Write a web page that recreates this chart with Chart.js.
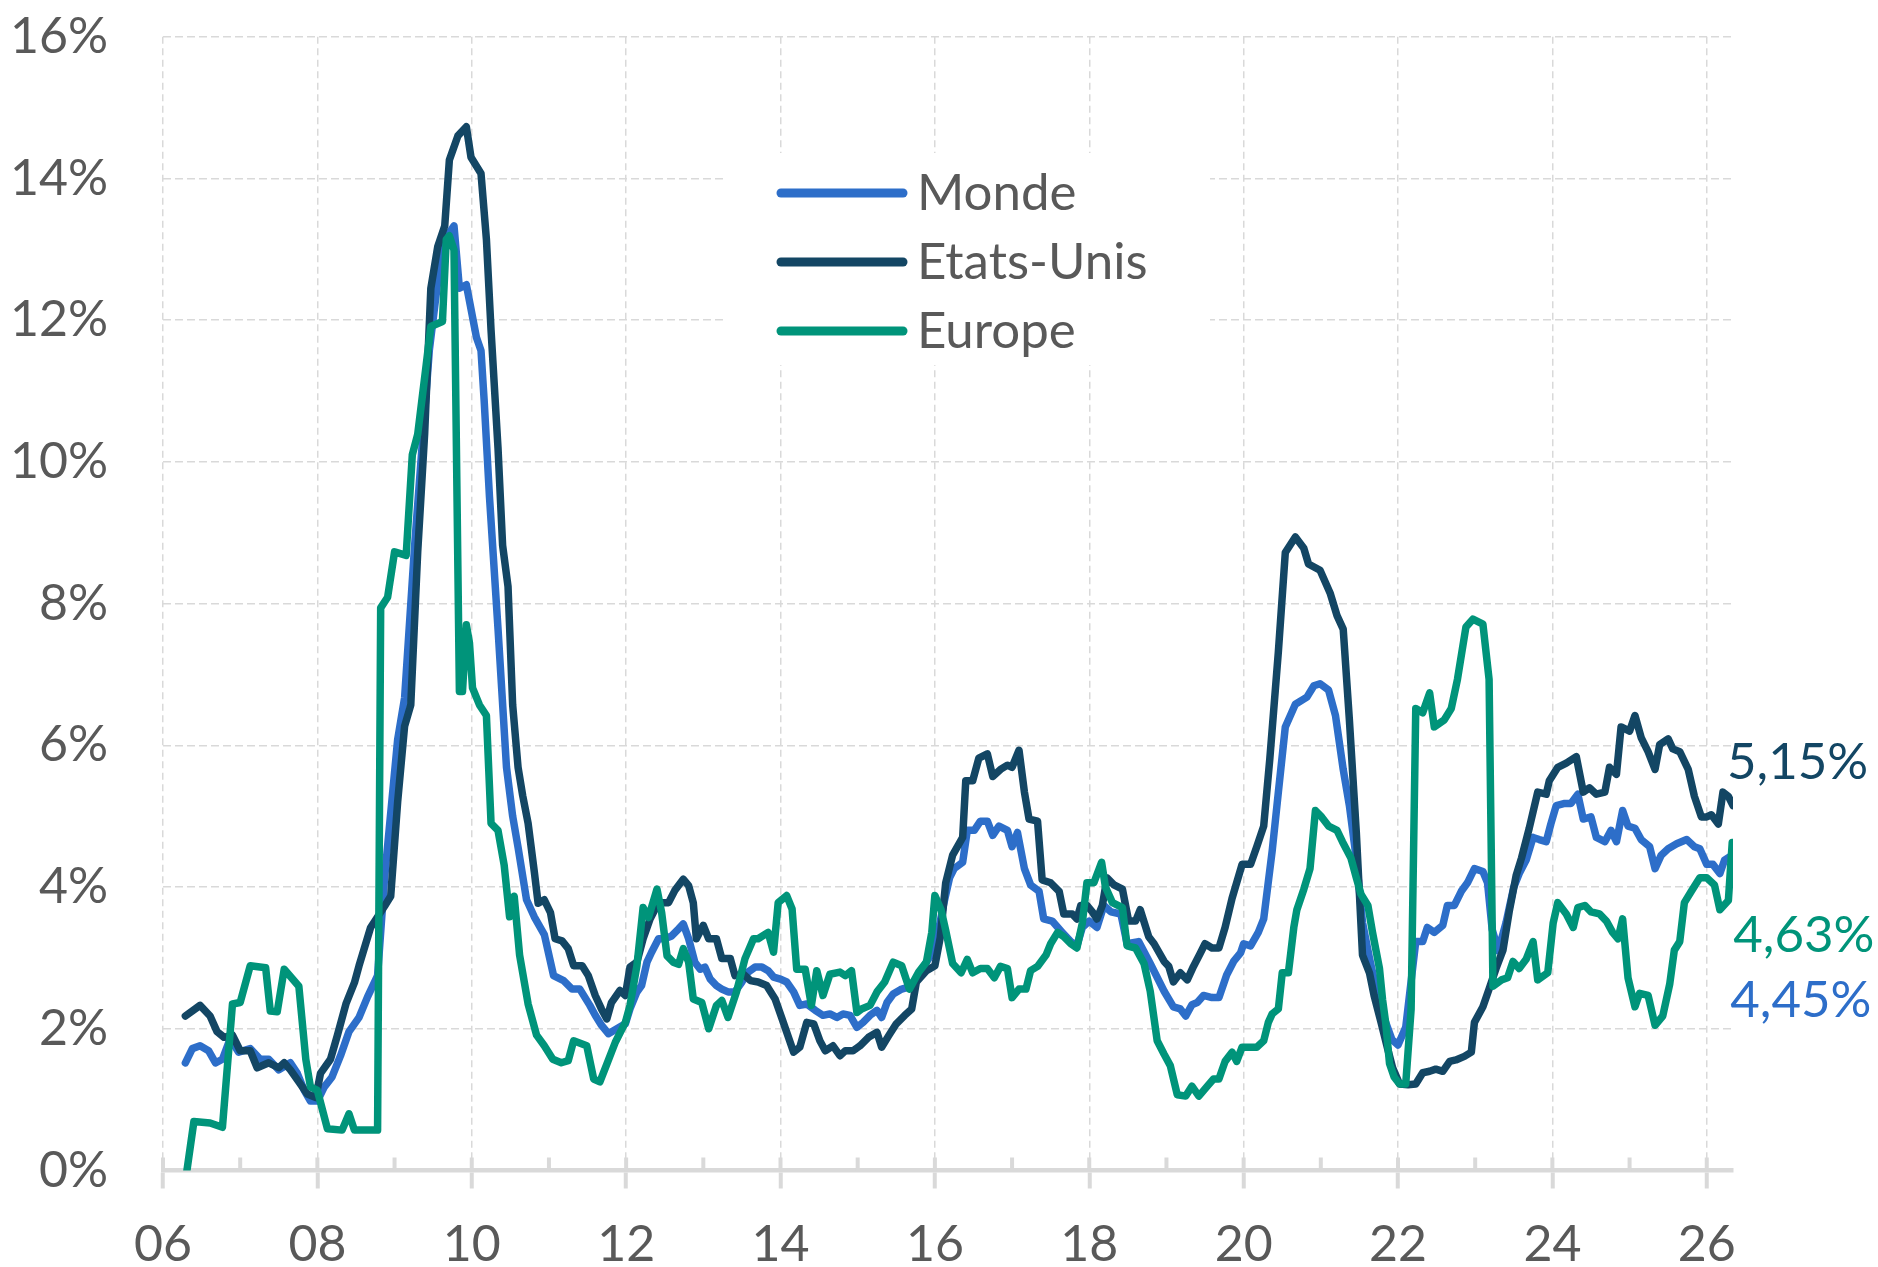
<!DOCTYPE html>
<html lang="fr">
<head>
    <meta charset="utf-8" />
    <title>Monde - Etats-Unis - Europe</title>
    <script src="https://cdn.jsdelivr.net/npm/chart.js"></script>
    <style>
      html, body { margin: 0; padding: 0; background: #ffffff; }
      #wrap { width: 1878px; height: 1267px; }
    </style>
</head>
<body>
<div id="wrap"><canvas id="chart" width="1878" height="1267"></canvas></div>

<script>
    // --- Données (année décimale, valeur en %) ---
    const seriesNames = ["Monde", "Etats-Unis", "Europe"];

    const mondeData = [
        [2006.29,1.52],[2006.38,1.72],[2006.48,1.76],[2006.59,1.69],[2006.68,1.52],[2006.77,1.57],[2006.87,1.86],[2006.98,1.67],
        [2007.13,1.72],[2007.26,1.57],[2007.37,1.57],[2007.50,1.42],[2007.65,1.52],[2007.74,1.37],[2007.83,1.13],[2007.91,0.98],
        [2008.00,0.98],[2008.09,1.18],[2008.19,1.32],[2008.30,1.62],[2008.41,1.96],[2008.54,2.16],[2008.65,2.45],[2008.78,2.75],
        [2008.87,4.12],[2009.04,6.08],[2009.13,6.67],[2009.26,8.82],[2009.45,11.57],[2009.56,12.55],[2009.65,13.14],[2009.77,13.33],
        [2009.84,12.45],[2009.93,12.50],[2010.06,11.76],[2010.12,11.57],[2010.16,10.88],[2010.23,9.50],[2010.34,7.65],[2010.45,5.69],
        [2010.53,5.00],[2010.60,4.56],[2010.71,3.82],[2010.81,3.58],[2010.94,3.33],[2011.06,2.75],[2011.19,2.68],[2011.30,2.56],
        [2011.40,2.56],[2011.53,2.33],[2011.60,2.19],[2011.68,2.05],[2011.77,1.93],[2011.88,2.00],[2011.99,2.07],[2012.05,2.28],
        [2012.14,2.52],[2012.20,2.61],[2012.27,2.94],[2012.33,3.08],[2012.42,3.27],[2012.50,3.27],[2012.59,3.31],[2012.68,3.41],
        [2012.74,3.48],[2012.81,3.27],[2012.89,2.94],[2012.96,2.84],[2013.02,2.87],[2013.09,2.70],[2013.17,2.61],[2013.24,2.56],
        [2013.32,2.52],[2013.41,2.52],[2013.50,2.66],[2013.58,2.80],[2013.67,2.87],[2013.76,2.87],[2013.84,2.82],[2013.91,2.73],
        [2014.00,2.70],[2014.08,2.66],[2014.17,2.52],[2014.25,2.33],[2014.34,2.35],[2014.45,2.26],[2014.55,2.19],[2014.64,2.21],
        [2014.73,2.16],[2014.81,2.21],[2014.90,2.19],[2014.99,2.02],[2015.07,2.09],[2015.16,2.19],[2015.25,2.26],[2015.31,2.16],
        [2015.38,2.37],[2015.46,2.49],[2015.57,2.56],[2015.67,2.59],[2015.79,2.75],[2015.89,2.94],[2016.00,3.13],[2016.11,3.74],
        [2016.19,4.13],[2016.25,4.26],[2016.36,4.35],[2016.42,4.80],[2016.51,4.80],[2016.59,4.93],[2016.68,4.93],[2016.75,4.73],
        [2016.83,4.86],[2016.94,4.80],[2017.00,4.57],[2017.07,4.77],[2017.16,4.26],[2017.24,4.03],[2017.35,3.94],[2017.41,3.55],
        [2017.52,3.52],[2017.65,3.36],[2017.76,3.23],[2017.84,3.17],[2017.91,3.43],[2018.00,3.52],[2018.10,3.43],[2018.19,3.74],
        [2018.28,3.65],[2018.41,3.62],[2018.49,3.20],[2018.64,3.23],[2018.79,2.92],[2018.97,2.53],[2019.09,2.31],[2019.18,2.28],
        [2019.25,2.18],[2019.33,2.34],[2019.40,2.37],[2019.48,2.47],[2019.59,2.44],[2019.68,2.44],[2019.78,2.76],[2019.87,2.95],
        [2019.96,3.07],[2020.00,3.20],[2020.09,3.17],[2020.19,3.36],[2020.26,3.55],[2020.37,4.51],[2020.45,5.34],[2020.54,6.26],
        [2020.67,6.58],[2020.82,6.68],[2020.91,6.84],[2020.99,6.87],[2021.10,6.78],[2021.19,6.42],[2021.29,5.66],[2021.37,5.15],
        [2021.46,4.40],[2021.54,3.50],[2021.63,3.00],[2021.72,2.55],[2021.82,2.15],[2021.92,1.85],[2022.00,1.77],[2022.10,2.02],
        [2022.23,3.23],[2022.32,3.23],[2022.38,3.43],[2022.47,3.36],[2022.58,3.46],[2022.64,3.74],[2022.73,3.74],[2022.82,3.94],
        [2022.90,4.06],[2022.99,4.26],[2023.10,4.22],[2023.16,4.06],[2023.22,3.40],[2023.30,3.10],[2023.40,3.50],[2023.50,4.00],
        [2023.57,4.19],[2023.66,4.38],[2023.75,4.70],[2023.83,4.67],[2023.92,4.64],[2023.98,4.89],[2024.05,5.15],[2024.16,5.18],
        [2024.24,5.18],[2024.33,5.31],[2024.40,4.96],[2024.50,4.99],[2024.57,4.70],[2024.68,4.64],[2024.76,4.80],[2024.83,4.64],
        [2024.91,5.08],[2024.98,4.86],[2025.07,4.83],[2025.15,4.67],[2025.26,4.57],[2025.33,4.26],[2025.41,4.45],[2025.50,4.54],
        [2025.61,4.61],[2025.74,4.67],[2025.84,4.57],[2025.91,4.54],[2026.00,4.32],[2026.08,4.32],[2026.17,4.19],[2026.23,4.38],
        [2026.33,4.45]
    ];

    const usData = [
        [2006.29,2.18],[2006.48,2.33],[2006.61,2.18],[2006.70,1.96],[2006.79,1.88],[2006.90,1.91],[2007.00,1.69],[2007.13,1.69],
        [2007.22,1.45],[2007.37,1.52],[2007.50,1.45],[2007.57,1.52],[2007.65,1.42],[2007.76,1.25],[2007.87,1.08],[2007.98,1.03],
        [2008.04,1.37],[2008.17,1.57],[2008.26,1.91],[2008.37,2.35],[2008.48,2.65],[2008.54,2.89],[2008.69,3.43],[2008.87,3.73],
        [2008.95,3.87],[2009.04,5.20],[2009.13,6.27],[2009.21,6.57],[2009.30,8.73],[2009.39,10.40],[2009.47,12.45],[2009.56,13.04],
        [2009.65,13.33],[2009.71,14.26],[2009.82,14.60],[2009.93,14.73],[2009.99,14.30],[2010.12,14.07],[2010.19,13.14],[2010.25,11.86],
        [2010.34,10.20],[2010.40,8.82],[2010.47,8.24],[2010.53,6.57],[2010.60,5.69],[2010.66,5.29],[2010.73,4.90],[2010.81,4.22],
        [2010.86,3.77],[2010.94,3.82],[2011.02,3.64],[2011.08,3.27],[2011.17,3.24],[2011.25,3.13],[2011.32,2.89],[2011.43,2.89],
        [2011.51,2.75],[2011.60,2.47],[2011.68,2.28],[2011.75,2.14],[2011.81,2.37],[2011.92,2.54],[2011.99,2.47],[2012.05,2.87],
        [2012.14,2.94],[2012.22,3.27],[2012.31,3.55],[2012.42,3.78],[2012.55,3.78],[2012.63,3.95],[2012.74,4.11],[2012.81,4.02],
        [2012.87,3.78],[2012.91,3.27],[2013.00,3.46],[2013.07,3.27],[2013.17,3.27],[2013.24,2.99],[2013.35,2.99],[2013.41,2.75],
        [2013.52,2.77],[2013.61,2.68],[2013.71,2.66],[2013.82,2.61],[2013.93,2.42],[2014.02,2.14],[2014.17,1.67],[2014.25,1.74],
        [2014.34,2.09],[2014.43,2.07],[2014.51,1.83],[2014.58,1.69],[2014.68,1.76],[2014.77,1.62],[2014.84,1.69],[2014.94,1.69],
        [2015.03,1.76],[2015.14,1.88],[2015.25,1.95],[2015.31,1.74],[2015.40,1.90],[2015.50,2.07],[2015.61,2.19],[2015.70,2.28],
        [2015.76,2.66],[2015.89,2.82],[2016.00,2.89],[2016.07,3.29],[2016.14,4.06],[2016.23,4.45],[2016.36,4.70],[2016.40,5.50],
        [2016.49,5.50],[2016.57,5.82],[2016.68,5.88],[2016.75,5.56],[2016.85,5.66],[2016.94,5.72],[2017.00,5.69],[2017.09,5.93],
        [2017.16,5.34],[2017.22,4.96],[2017.33,4.93],[2017.39,4.10],[2017.50,4.06],[2017.61,3.94],[2017.67,3.62],[2017.78,3.62],
        [2017.84,3.55],[2017.89,3.74],[2017.97,3.74],[2018.04,3.65],[2018.10,3.55],[2018.17,3.74],[2018.23,4.13],[2018.32,4.03],
        [2018.43,3.97],[2018.51,3.52],[2018.60,3.52],[2018.66,3.68],[2018.77,3.30],[2018.84,3.20],[2018.97,2.95],[2019.03,2.88],
        [2019.09,2.66],[2019.18,2.79],[2019.27,2.69],[2019.35,2.88],[2019.44,3.07],[2019.50,3.20],[2019.59,3.14],[2019.68,3.14],
        [2019.76,3.43],[2019.85,3.84],[2019.98,4.32],[2020.09,4.32],[2020.17,4.57],[2020.26,4.86],[2020.34,5.82],[2020.45,7.32],
        [2020.54,8.72],[2020.67,8.94],[2020.78,8.78],[2020.84,8.56],[2020.99,8.47],[2021.12,8.15],[2021.21,7.83],[2021.29,7.64],
        [2021.37,6.36],[2021.46,4.77],[2021.54,3.04],[2021.63,2.79],[2021.69,2.47],[2021.78,2.09],[2021.87,1.70],[2021.93,1.45],
        [2022.02,1.22],[2022.13,1.21],[2022.23,1.22],[2022.32,1.38],[2022.41,1.40],[2022.49,1.43],[2022.58,1.40],[2022.67,1.54],
        [2022.75,1.56],[2022.86,1.61],[2022.95,1.67],[2022.99,2.09],[2023.10,2.31],[2023.18,2.56],[2023.27,2.85],[2023.36,3.11],
        [2023.44,3.65],[2023.53,4.16],[2023.60,4.41],[2023.70,4.83],[2023.81,5.34],[2023.92,5.31],[2023.96,5.50],[2024.07,5.69],
        [2024.18,5.75],[2024.31,5.84],[2024.40,5.34],[2024.48,5.40],[2024.57,5.31],[2024.68,5.34],[2024.74,5.69],[2024.83,5.59],
        [2024.89,6.26],[2025.00,6.20],[2025.07,6.42],[2025.15,6.11],[2025.24,5.91],[2025.33,5.66],[2025.39,6.01],[2025.50,6.09],
        [2025.56,5.95],[2025.65,5.91],[2025.76,5.66],[2025.84,5.28],[2025.93,4.99],[2026.00,4.99],[2026.06,5.02],[2026.15,4.89],
        [2026.21,5.34],[2026.28,5.28],[2026.34,5.15]
    ];

    const europeData = [
        [2006.31,0.00],[2006.40,0.69],[2006.61,0.67],[2006.77,0.61],[2006.90,2.35],[2007.00,2.37],[2007.13,2.89],[2007.33,2.86],
        [2007.39,2.25],[2007.48,2.24],[2007.57,2.84],[2007.76,2.60],[2007.85,1.57],[2007.91,1.18],[2008.00,1.13],[2008.13,0.59],
        [2008.32,0.57],[2008.41,0.80],[2008.48,0.57],[2008.78,0.57],[2008.82,7.94],[2008.91,8.09],[2009.00,8.73],[2009.15,8.68],
        [2009.23,10.10],[2009.30,10.39],[2009.41,11.37],[2009.47,11.91],[2009.62,11.98],[2009.67,13.14],[2009.71,13.19],[2009.77,12.99],
        [2009.84,6.76],[2009.88,6.76],[2009.93,7.70],[2009.97,7.45],[2010.01,6.81],[2010.10,6.57],[2010.19,6.42],[2010.25,4.90],
        [2010.34,4.80],[2010.42,4.31],[2010.49,3.58],[2010.55,3.87],[2010.62,3.04],[2010.73,2.35],[2010.84,1.91],[2010.94,1.76],
        [2011.05,1.57],[2011.16,1.52],[2011.25,1.55],[2011.32,1.83],[2011.49,1.76],[2011.58,1.29],[2011.66,1.25],[2011.75,1.50],
        [2011.86,1.81],[2011.99,2.09],[2012.05,2.33],[2012.14,2.89],[2012.22,3.71],[2012.29,3.57],[2012.40,3.97],[2012.46,3.64],
        [2012.53,3.03],[2012.61,2.94],[2012.68,2.91],[2012.74,3.13],[2012.81,2.94],[2012.87,2.42],[2012.98,2.37],[2013.07,2.00],
        [2013.17,2.33],[2013.24,2.40],[2013.32,2.16],[2013.43,2.52],[2013.54,2.99],[2013.65,3.27],[2013.71,3.27],[2013.84,3.36],
        [2013.91,3.08],[2013.97,3.78],[2014.08,3.88],[2014.15,3.69],[2014.21,2.84],[2014.32,2.84],[2014.40,2.33],[2014.47,2.82],
        [2014.55,2.47],[2014.64,2.77],[2014.77,2.80],[2014.84,2.75],[2014.92,2.82],[2014.99,2.23],[2015.05,2.28],[2015.16,2.33],
        [2015.25,2.52],[2015.35,2.66],[2015.46,2.94],[2015.57,2.89],[2015.67,2.56],[2015.79,2.80],[2015.89,2.94],[2015.96,3.36],
        [2016.00,3.88],[2016.08,3.68],[2016.14,3.39],[2016.23,2.92],[2016.34,2.79],[2016.42,2.98],[2016.49,2.79],[2016.59,2.85],
        [2016.68,2.85],[2016.77,2.72],[2016.85,2.88],[2016.94,2.85],[2017.00,2.44],[2017.09,2.56],[2017.18,2.56],[2017.24,2.82],
        [2017.33,2.88],[2017.44,3.04],[2017.50,3.20],[2017.59,3.36],[2017.67,3.30],[2017.76,3.20],[2017.84,3.14],[2017.91,3.49],
        [2017.97,4.06],[2018.06,4.06],[2018.16,4.35],[2018.21,4.00],[2018.30,3.78],[2018.43,3.71],[2018.49,3.17],[2018.60,3.14],
        [2018.71,2.92],[2018.79,2.53],[2018.88,1.83],[2018.97,1.64],[2019.05,1.48],[2019.14,1.07],[2019.25,1.05],[2019.33,1.19],
        [2019.42,1.05],[2019.53,1.19],[2019.61,1.29],[2019.68,1.29],[2019.76,1.54],[2019.85,1.67],[2019.91,1.54],[2019.98,1.74],
        [2020.09,1.74],[2020.17,1.74],[2020.26,1.83],[2020.32,2.09],[2020.37,2.21],[2020.45,2.28],[2020.50,2.79],[2020.58,2.79],
        [2020.65,3.43],[2020.69,3.68],[2020.78,3.97],[2020.86,4.26],[2020.93,5.08],[2021.01,4.99],[2021.10,4.86],[2021.21,4.80],
        [2021.28,4.64],[2021.39,4.41],[2021.46,4.13],[2021.52,3.90],[2021.61,3.74],[2021.67,3.36],[2021.76,2.85],[2021.80,2.41],
        [2021.84,2.09],[2021.89,1.51],[2021.95,1.32],[2022.02,1.22],[2022.10,1.22],[2022.17,2.28],[2022.23,6.52],[2022.32,6.46],
        [2022.41,6.74],[2022.47,6.26],[2022.60,6.36],[2022.69,6.52],[2022.77,6.93],[2022.88,7.67],[2022.97,7.78],[2023.10,7.71],
        [2023.18,6.93],[2023.23,2.60],[2023.34,2.69],[2023.42,2.72],[2023.49,2.95],[2023.57,2.85],[2023.66,2.98],[2023.75,3.23],
        [2023.81,2.69],[2023.94,2.79],[2024.01,3.49],[2024.07,3.78],[2024.18,3.62],[2024.27,3.43],[2024.33,3.71],[2024.42,3.74],
        [2024.50,3.65],[2024.61,3.62],[2024.70,3.52],[2024.78,3.36],[2024.85,3.27],[2024.91,3.55],[2024.98,2.72],[2025.07,2.31],
        [2025.13,2.50],[2025.24,2.47],[2025.33,2.05],[2025.43,2.18],[2025.52,2.63],[2025.58,3.11],[2025.65,3.23],[2025.71,3.78],
        [2025.80,3.94],[2025.91,4.13],[2026.00,4.13],[2026.10,4.03],[2026.17,3.68],[2026.28,3.81],[2026.33,4.63]
    ];

    // axes
    const xMin = 2006, xMax = 2026.34;
    const yMin = 0, yMax = 16, yStep = 2;

    const colors = ["#2D6EC9", "#134664", "#00947A"];
    const FONT = "Lato, 'Open Sans', sans-serif";
    const GRID = "#D9D9D9";
    const TEXT = "#595959";

    const isMajor = v => Number.isInteger(v) && v % 2 === 0;

    // --- petits traits de graduation au-dessus de l'axe X ---
    const upTicks = {
        id: "upTicks",
        beforeDatasetsDraw(chart) {
            const { ctx, scales: { x }, chartArea } = chart;
            ctx.save();
            ctx.strokeStyle = GRID;
            ctx.lineWidth = 4;
            for (let yr = xMin; yr <= Math.floor(xMax); yr++) {
                const px = x.getPixelForValue(yr);
                ctx.beginPath();
                ctx.moveTo(px, chartArea.bottom);
                ctx.lineTo(px, chartArea.bottom - 13);
                ctx.stroke();
            }
            ctx.restore();
        }
    };

    // --- légende dans la zone du graphique ---
    const innerLegend = {
        id: "innerLegend",
        beforeDatasetsDraw(chart) {
            const { ctx } = chart;
            ctx.save();
            ctx.fillStyle = "#ffffff";
            ctx.fillRect(723, 153, 487, 212);
            ctx.lineCap = "round";
            ctx.font = "51px " + FONT;
            ctx.textBaseline = "middle";
            chart.data.datasets.forEach((ds, i) => {
                const y = 193 + i * 69;
                ctx.strokeStyle = ds.borderColor;
                ctx.lineWidth = 9;
                ctx.beginPath();
                ctx.moveTo(781, y);
                ctx.lineTo(903, y);
                ctx.stroke();
                ctx.fillStyle = TEXT;
                ctx.fillText(ds.label, 917, y + 1);
            });
            ctx.restore();
        }
    };

    // --- étiquettes de la dernière valeur ---
    const labelOffsets = [[-2, 145], [-6, -43], [1, 93]];
    const endLabels = {
        id: "endLabels",
        afterDatasetsDraw(chart) {
            const { ctx } = chart;
            ctx.save();
            ctx.font = "51px " + FONT;
            ctx.textBaseline = "middle";
            ctx.textAlign = "left";
            chart.data.datasets.forEach((ds, i) => {
                const meta = chart.getDatasetMeta(i);
                const pt = meta.data[meta.data.length - 1];
                const last = ds.data[ds.data.length - 1][1];
                ctx.fillStyle = ds.borderColor;
                ctx.fillText(last.toFixed(2).replace(".", ",") + "%", pt.x + labelOffsets[i][0], pt.y + labelOffsets[i][1]);
            });
            ctx.restore();
        }
    };

    const seriesData = [mondeData, usData, europeData];

    new Chart(document.getElementById("chart"), {
        type: "line",
        data: {
            datasets: seriesNames.map((name, i) => ({
                label: name,
                data: seriesData[i],
                borderColor: colors[i],
                backgroundColor: colors[i],
                borderWidth: 7.5,
                pointRadius: 0,
                tension: 0,
                fill: false,
                borderJoinStyle: "round",
                borderCapStyle: "round",
                order: 3 - i
            }))
        },
        options: {
            responsive: false,
            animation: false,
            devicePixelRatio: 1,
            layout: { padding: { top: 36.7, right: 145, bottom: 0, left: 0 } },
            plugins: {
                legend: { display: false },
                tooltip: { enabled: false }
            },
            scales: {
                x: {
                    type: "linear",
                    min: xMin,
                    max: xMax,
                    afterFit: s => { s.height = 96.5; },
                    ticks: {
                        stepSize: 1,
                        autoSkip: false,
                        includeBounds: false,
                        maxRotation: 0,
                        padding: 26,
                        color: TEXT,
                        font: { family: FONT, size: 50 },
                        callback: v => isMajor(v) ? String(v).slice(2) : ""
                    },
                    grid: {
                        color: c => isMajor(c.tick.value) ? GRID : "rgba(0,0,0,0)",
                        lineWidth: 1.5,
                        tickLength: 18,
                        tickWidth: 4,
                        tickColor: c => isMajor(c.tick.value) ? GRID : "rgba(0,0,0,0)"
                    },
                    border: { display: true, color: GRID, width: 4.5, dash: [7, 4.5] }
                },
                y: {
                    min: yMin,
                    max: yMax,
                    afterFit: s => { s.width = 163; s.paddingTop = 0; s.paddingBottom = 0; },
                    ticks: {
                        stepSize: yStep,
                        padding: 55,
                        color: TEXT,
                        font: { family: FONT, size: 50 },
                        callback: v => v + "%"
                    },
                    grid: {
                        color: GRID,
                        lineWidth: 1.5,
                        drawTicks: false
                    },
                    border: { display: false, dash: [8, 4] }
                }
            }
        },
        plugins: [upTicks, innerLegend, endLabels]
    });
</script>
</body>
</html>
